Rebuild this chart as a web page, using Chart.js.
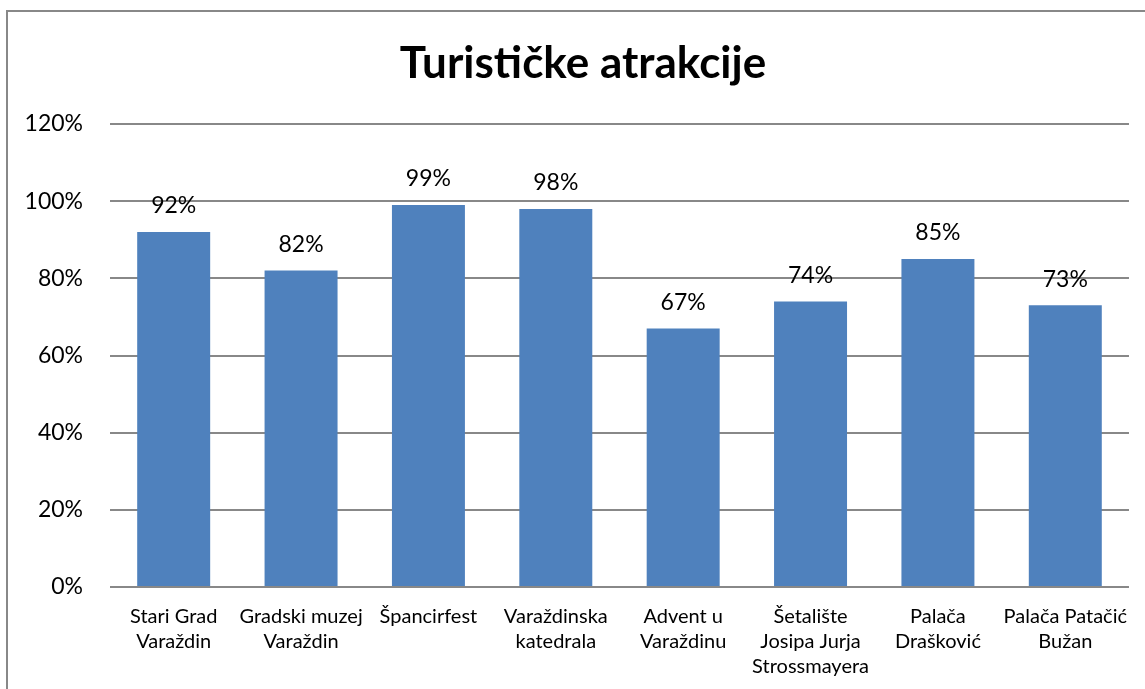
<!DOCTYPE html>
<html>
<head>
<meta charset="utf-8">
<script src="https://cdn.jsdelivr.net/npm/chart.js@4/dist/chart.umd.min.js"></script>
<style>
  body { margin: 0; background: #fff; overflow: hidden; }
  #frame { position: absolute; left: 6px; top: 10px; width: 1200px; height: 700px; border: 2px solid #888; }
  #wrap { position: absolute; left: 0; top: 0; width: 1145px; height: 689px; }
</style>
</head>
<body>
<div id="frame"></div>
<div id="wrap"><canvas id="chart"></canvas></div>
<script>
// chart data
var chartTitle = 'Turističke atrakcije';
var categories = [
  ['Stari Grad', 'Varaždin'],
  ['Gradski muzej', 'Varaždin'],
  ['Špancirfest'],
  ['Varaždinska', 'katedrala'],
  ['Advent u', 'Varaždinu'],
  ['Šetalište', 'Josipa Jurja', 'Strossmayera'],
  ['Palača', 'Drašković'],
  ['Palača Patačić', 'Bužan']
];
var values = [92, 82, 99, 98, 67, 74, 85, 73];
var yTicks = [0, 20, 40, 60, 80, 100, 120];

var fontFamily = 'Lato, "Open Sans", sans-serif';

// title over the whole frame (not only over the plot)
var frameTitle = {
  id: 'frameTitle',
  afterDraw: function (chart) {
    var ctx = chart.ctx;
    ctx.save();
    ctx.font = 'bold 44px ' + fontFamily;
    ctx.fillStyle = '#000';
    ctx.textAlign = 'center';
    ctx.textBaseline = 'middle';
    ctx.fillText(chartTitle, 583, 64);
    ctx.restore();
  }
};

// draws the value above each bar
var barLabels = {
  id: 'barLabels',
  afterDatasetsDraw: function (chart) {
    var ctx = chart.ctx;
    var meta = chart.getDatasetMeta(0);
    ctx.save();
    ctx.font = '23px ' + fontFamily;
    ctx.fillStyle = '#000';
    ctx.textAlign = 'center';
    ctx.textBaseline = 'middle';
    meta.data.forEach(function (bar, i) {
      ctx.fillText(values[i] + '%', bar.x, bar.y - 26);
    });
    ctx.restore();
  }
};

new Chart(document.getElementById('chart'), {
  type: 'bar',
  data: {
    labels: categories,
    datasets: [{
      data: values,
      backgroundColor: '#4F81BD',
      borderWidth: 0,
      categoryPercentage: 1,
      barPercentage: 0.573
    }]
  },
  options: {
    responsive: true,
    maintainAspectRatio: false,
    animation: false,
    layout: { padding: { left: 8, right: 16, top: 124, bottom: 2 } },
    plugins: {
      legend: { display: false },
      tooltip: { enabled: false },
      title: { display: false }
    },
    scales: {
      x: {
        afterFit: function (scale) { scale.height = 100; },
        grid: { display: false, drawTicks: false },
        border: { display: false },
        ticks: {
          color: '#000',
          padding: 17,
          maxRotation: 0,
          autoSkip: false,
          font: { family: fontFamily, size: 20, lineHeight: 1.25 }
        }
      },
      y: {
        min: 0,
        max: 120,
        afterFit: function (scale) { scale.width = 102; },
        afterBuildTicks: function (scale) {
          scale.ticks = yTicks.map(function (v) { return { value: v }; });
        },
        grid: { color: '#888', lineWidth: 2, drawTicks: false },
        border: { display: false },
        ticks: {
          color: '#000',
          padding: 27,
          font: { family: fontFamily, size: 23 },
          callback: function (v) { return v + '%'; }
        }
      }
    }
  },
  plugins: [barLabels, frameTitle]
});
</script>
</body>
</html>
